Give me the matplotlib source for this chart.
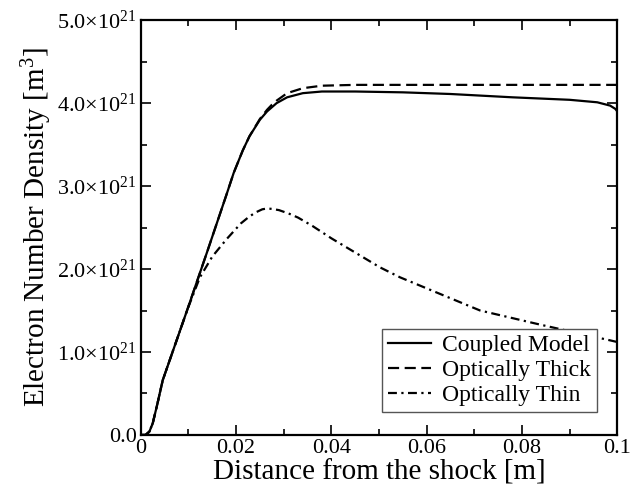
import matplotlib
matplotlib.use("Agg")
import matplotlib.pyplot as plt
from matplotlib.ticker import MultipleLocator, FixedLocator, FixedFormatter

# values in units of 1e21 m^-3
coupledX = [0, 0.001, 0.0018, 0.0025, 0.0035, 0.0046, 0.0097, 0.014, 0.018, 0.0195,
            0.0214, 0.0228, 0.025, 0.0265, 0.0275, 0.0285, 0.0307, 0.034, 0.038, 0.045,
            0.055, 0.065, 0.078, 0.09, 0.0958, 0.0985, 0.0996, 0.1]
coupledY = [0, 0, 0.04, 0.14, 0.38, 0.66, 1.5, 2.22, 2.9, 3.16,
            3.43, 3.6, 3.8, 3.9, 3.95, 4.0, 4.07, 4.12, 4.14, 4.14,
            4.13, 4.11, 4.07, 4.04, 4.01, 3.97, 3.93, 3.9]

thickX = [0, 0.001, 0.0018, 0.0025, 0.0035, 0.0046, 0.0097, 0.014, 0.018, 0.0195,
          0.0214, 0.0228, 0.025, 0.0265, 0.0275, 0.0285, 0.0307, 0.034, 0.038, 0.045,
          0.06, 0.08, 0.1]
thickY = [0, 0, 0.04, 0.14, 0.38, 0.66, 1.5, 2.22, 2.9, 3.16,
          3.43, 3.6, 3.81, 3.92, 3.98, 4.03, 4.12, 4.18, 4.21, 4.22,
          4.22, 4.22, 4.22]

thinX = [0, 0.001, 0.0018, 0.0025, 0.0035, 0.0046, 0.0097, 0.0124, 0.015, 0.018,
         0.021, 0.0225, 0.024, 0.0255, 0.0265, 0.0275, 0.029, 0.031, 0.033, 0.036,
         0.040, 0.0502, 0.0544, 0.0607, 0.0712, 0.0838, 0.0985, 0.1]
thinY = [0, 0, 0.04, 0.14, 0.38, 0.66, 1.5, 1.9, 2.15, 2.36,
         2.55, 2.62, 2.68, 2.72, 2.73, 2.725, 2.71, 2.67, 2.62, 2.52,
         2.37, 2.02, 1.9, 1.75, 1.5, 1.33, 1.14, 1.12]

yTicks = [0, 1, 2, 3, 4, 5]
yTickLabels = ["0.0", "1.0\u00d710$^{21}$", "2.0\u00d710$^{21}$", "3.0\u00d710$^{21}$",
               "4.0\u00d710$^{21}$", "5.0\u00d710$^{21}$"]
xTicks = [0, 0.02, 0.04, 0.06, 0.08, 0.1]
xTickLabels = ["0", "0.02", "0.04", "0.06", "0.08", "0.1"]

plt.rcParams["font.family"] = ["Liberation Serif", "DejaVu Serif"]
plt.rcParams["mathtext.fontset"] = "custom"
plt.rcParams["mathtext.rm"] = "Liberation Serif"
plt.rcParams["mathtext.it"] = "Liberation Serif:italic"

fig = plt.figure(figsize=(6.43, 4.92), dpi=100)
ax = fig.add_axes([0.219, 0.116, 0.741, 0.843])

ax.plot(coupledX, coupledY, "-", color="black", lw=1.6, label="Coupled Model")
ax.plot(thickX, thickY, color="black", lw=1.6, dashes=(5, 2.5), label="Optically Thick")
ax.plot(thinX, thinY, color="black", lw=1.6, dashes=(4, 2, 1, 2), label="Optically Thin")

ax.set_xlim(0, 0.1)
ax.set_ylim(0, 5)
ax.xaxis.set_major_locator(FixedLocator(xTicks))
ax.xaxis.set_major_formatter(FixedFormatter(xTickLabels))
ax.xaxis.set_minor_locator(MultipleLocator(0.01))
ax.yaxis.set_major_locator(FixedLocator(yTicks))
ax.yaxis.set_major_formatter(FixedFormatter(yTickLabels))
ax.yaxis.set_minor_locator(MultipleLocator(0.5))
ax.tick_params(which="both", direction="in", top=True, right=True, width=1.2)
ax.tick_params(which="major", length=7, labelsize=16, pad=3)
ax.tick_params(which="minor", length=4)
for s in ax.spines.values():
    s.set_linewidth(1.6)

ax.set_xlabel("Distance from the shock [m]", fontsize=21, labelpad=1)
ax.set_ylabel("Electron Number Density [m$^3$]", fontsize=21, labelpad=2)

leg = ax.legend(loc="lower right", bbox_to_anchor=(0.958, 0.055), fontsize=17,
                fancybox=False, framealpha=1, edgecolor="#555555",
                handlelength=1.8, handletextpad=0.5, labelspacing=0.15,
                borderpad=0.25, borderaxespad=0)
leg.get_frame().set_linewidth(1.0)

fig.savefig("out.png", dpi=100)
